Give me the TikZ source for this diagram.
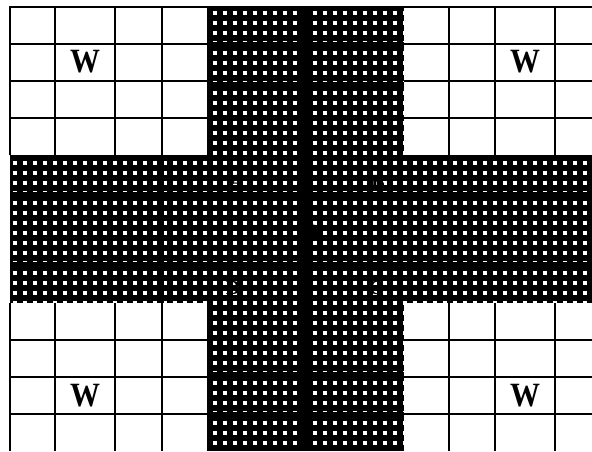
\documentclass[tikz,border=0pt]{standalone}
\usepackage{fontspec}
\setmainfont{Liberation Serif}
\begin{document}
\begin{tikzpicture}[x=1pt,y=-1pt]
\tikzset{
  gridline/.style={black,line width=2.4pt},
  innerv/.style={black,line width=4pt},
  innerh/.style={black,line width=3pt},
  dotrow/.style={white,line width=4.2pt,dash pattern=on 4.2pt off 5.8pt},
  wlabel/.style={font=\fontsize{34}{34}\selectfont\bfseries,text=black,inner sep=0pt},
  letter/.style={font=\fontsize{20}{20}\selectfont\bfseries,text=black,inner sep=0pt}
}
\useasboundingbox (0,0) rectangle (592,451);
\fill[white] (0,0) rectangle (592,451);
% dark cross
\fill[black] (207,6) rectangle (404,451);
\fill[black] (10,155) rectangle (592,303);
\begin{scope}
  \clip (207,6) rectangle (404,451) (10,155) rectangle (592,303);
  \foreach \y in {3,13,...,453} \draw[dotrow] (2.9,\y) -- (600,\y);
\end{scope}
% inner lines of the dark cross
\draw[innerv] (305,6) -- (305,451);
\draw[innerv] (162,155) -- (162,303);
\draw[innerv] (449,155) -- (449,303);
\foreach \y in {193,263} \draw[innerh] (10,\y) -- (592,\y);
\foreach \y in {43,83,373,413} \draw[innerh] (207,\y) -- (404,\y);
% white cell grid
\foreach \x in {10,55,115,162,449,495,555}
  \draw[gridline] (\x,6) -- (\x,155) (\x,303) -- (\x,451);
\foreach \y in {7,44,81,118,340,377,414}
  \draw[gridline] (10,\y) -- (207,\y) (404,\y) -- (592,\y);
% labels
\node[wlabel] (w1) at (85,62) {\scalebox{0.88}[1]{W}};
\node[wlabel] (w2) at (525,62) {\scalebox{0.88}[1]{W}};
\node[wlabel] (w3) at (85,396) {\scalebox{0.88}[1]{W}};
\node[wlabel] (w4) at (525,396) {\scalebox{0.88}[1]{W}};
\node[letter] (la) at (237,182) {A};
\node[letter] (lb) at (378,182) {B};
\node[letter] (ld) at (233,288) {D};
\node[letter] (lc) at (376,288) {C};
\fill[black] (313,231) circle (6.5);
\end{tikzpicture}
\end{document}
